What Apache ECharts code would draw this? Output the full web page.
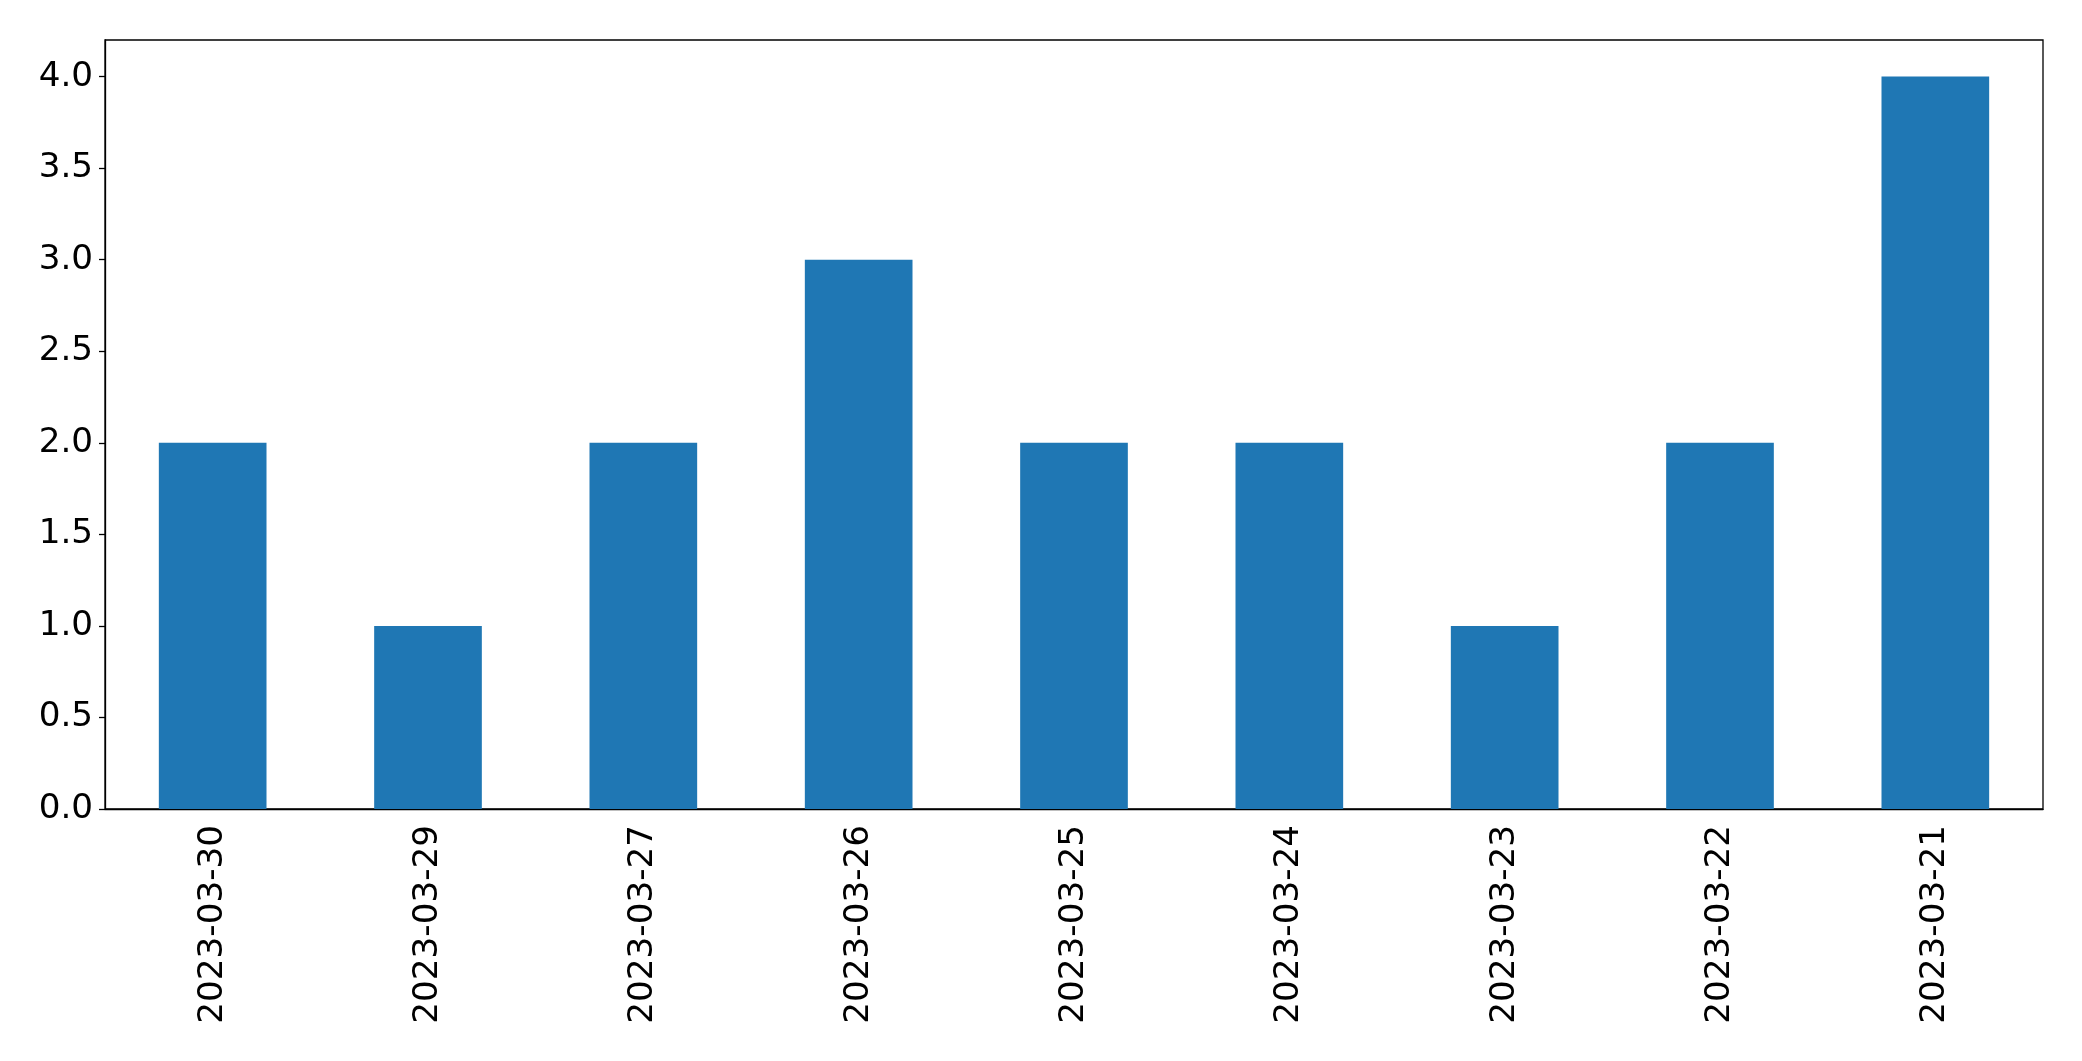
<!DOCTYPE html>
<html><head><meta charset="utf-8">
<script src="https://cdn.jsdelivr.net/npm/echarts@6/dist/echarts.min.js"></script>
<style>html,body{margin:0;padding:0;background:#fff}#c{width:2082px;height:1061px}</style>
</head><body><div id="c"></div>
<script>
const categories = ['2023-03-30','2023-03-29','2023-03-27','2023-03-26','2023-03-25','2023-03-24','2023-03-23','2023-03-22','2023-03-21'];
const values = [2, 1, 2, 3, 2, 2, 1, 2, 4];
const yTicks = [0, 0.5, 1, 1.5, 2, 2.5, 3, 3.5, 4];

const chart = echarts.init(document.getElementById('c'), null, {renderer: 'canvas'});
const font = 'DejaVu Sans';
chart.setOption({
  animation: false,
  grid: {left: 105, right: 39, top: 40, bottom: 252, show: true, borderColor: '#000', borderWidth: 1.3, containLabel: false},
  xAxis: {
    type: 'category', data: categories, boundaryGap: true,
    axisLine: {lineStyle: {color: '#000', width: 1.3}},
    axisTick: {alignWithLabel: true, length: 6, lineStyle: {color: '#000', width: 1.3}},
    axisLabel: {rotate: 90, color: '#000', fontFamily: font, fontSize: 34.2, margin: 16, interval: 0}
  },
  yAxis: {
    type: 'value', min: 0, max: 4.2,
    splitLine: {show: false},
    axisLine: {show: true, lineStyle: {color: '#000', width: 1.3}},
    axisTick: {show: true, length: 6, customValues: yTicks, lineStyle: {color: '#000', width: 1.3}},
    axisLabel: {color: '#000', fontFamily: font, fontSize: 34.2, margin: 12, customValues: yTicks,
      formatter: v => Number(v).toFixed(1)}
  },
  series: [{type: 'bar', data: values, barWidth: '50%', itemStyle: {color: '#1f77b4'}}]
});
</script></body></html>
